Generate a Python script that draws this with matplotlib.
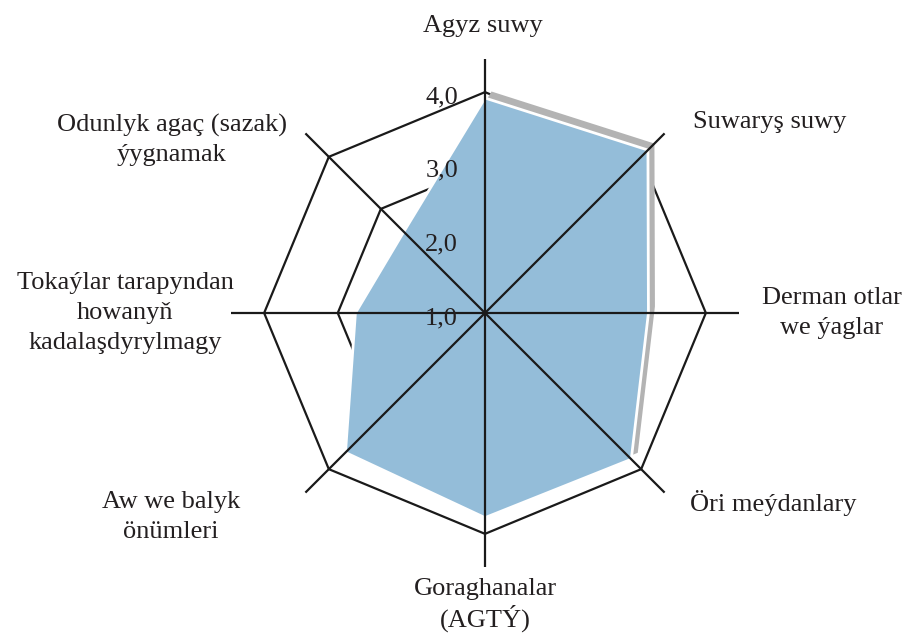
import numpy as np
import matplotlib
matplotlib.use("Agg")
import matplotlib.pyplot as plt
from matplotlib.transforms import offset_copy

# data
categories = [
    "Agyz suwy",
    "Suwaryş suwy",
    "Derman otlar\nwe ýaglar",
    "Öri meýdanlary",
    "Goraghanalar\n(AGTÝ)",
    "Aw we balyk\nönümleri",
    "Tokaýlar tarapyndan\nhowanyň\nkadalaşdyrylmagy",
    "Odunlyk agaç (sazak)\nýygnamak",
]
values = [3.92, 4.13, 3.22, 3.81, 3.78, 3.68, 2.76, 2.56]
ring_levels = [2.0, 3.0, 4.0]
tick_levels = [1.0, 2.0, 3.0, 4.0]
tick_labels = ["1,0", "2,0", "3,0", "4,0"]

r_min, r_max = 1.0, 4.45

# label placement: offset (px) from the 4,0 ring on each spoke, plus alignment
label_offsets = [(-2, 66), (52, 35), (126, 0), (49, -34),
                 (0, -71), (-158, -48), (-139, 0), (-157, 17)]
label_ha = ["center", "left", "center", "left",
            "center", "center", "center", "center"]
# parentheses make the bottom label's second line taller
label_spacing = [1.45, 1.45, 1.45, 1.45, 1.2, 1.45, 1.45, 1.45]

plt.rcParams['font.family'] = ['Liberation Serif', 'DejaVu Serif']
text_color = "#231f20"
line_color = "#1a1a1a"
fill_color = "#94bdd9"
shadow_color = "#b3b3b3"
fs = 19

n = len(categories)
angles = np.arange(n) * 2 * np.pi / n
angles_closed = np.append(angles, angles[0])
values_closed = np.append(values, values[0])

fig = plt.figure(figsize=(9.04, 6.33), dpi=100)
ax = fig.add_axes([0.2555, 0.1043, 0.562, 0.8025], projection='polar')
ax.set_theta_offset(np.pi / 2)
ax.set_theta_direction(-1)
ax.set_ylim(r_min, r_max)
ax.set_xticks([])
ax.set_yticks([])
ax.grid(False)
ax.spines['polar'].set_visible(False)
ax.patch.set_visible(False)

# octagon rings (hidden under the fill where smaller)
for lev in ring_levels:
    ax.plot(angles_closed, [lev] * (n + 1), color=line_color, lw=1.6,
            zorder=1, clip_on=False)

# grey drop shadow, shifted up-right
shadow_tr = offset_copy(ax.transData, fig=fig, x=6.5, y=6.5, units='dots')
ax.fill(angles_closed, values_closed, color=shadow_color, lw=0,
        transform=shadow_tr, zorder=2)

# main area
ax.fill(angles_closed, values_closed, facecolor=fill_color, edgecolor='white',
        lw=2.0, zorder=3)

# spokes on top
for a in angles:
    ax.plot([a, a], [r_min, r_max], color=line_color, lw=1.6, zorder=4,
            clip_on=False, solid_capstyle='butt')

# radial tick labels left of the top spoke
for lev, lab in zip(tick_levels, tick_labels):
    ax.annotate(lab, xy=(0, lev), xytext=(-27, -5), textcoords='offset pixels',
                ha='right', va='center', fontsize=fs, color=text_color,
                zorder=5, annotation_clip=False)

# category labels
for a, lab, off, ha, ls in zip(angles, categories, label_offsets, label_ha,
                               label_spacing):
    ax.annotate(lab, xy=(a, 4.0), xytext=off, textcoords='offset pixels',
                ha=ha, va='center', multialignment='center', fontsize=fs,
                color=text_color, linespacing=ls, annotation_clip=False)

fig.savefig("out.png", dpi=100)
